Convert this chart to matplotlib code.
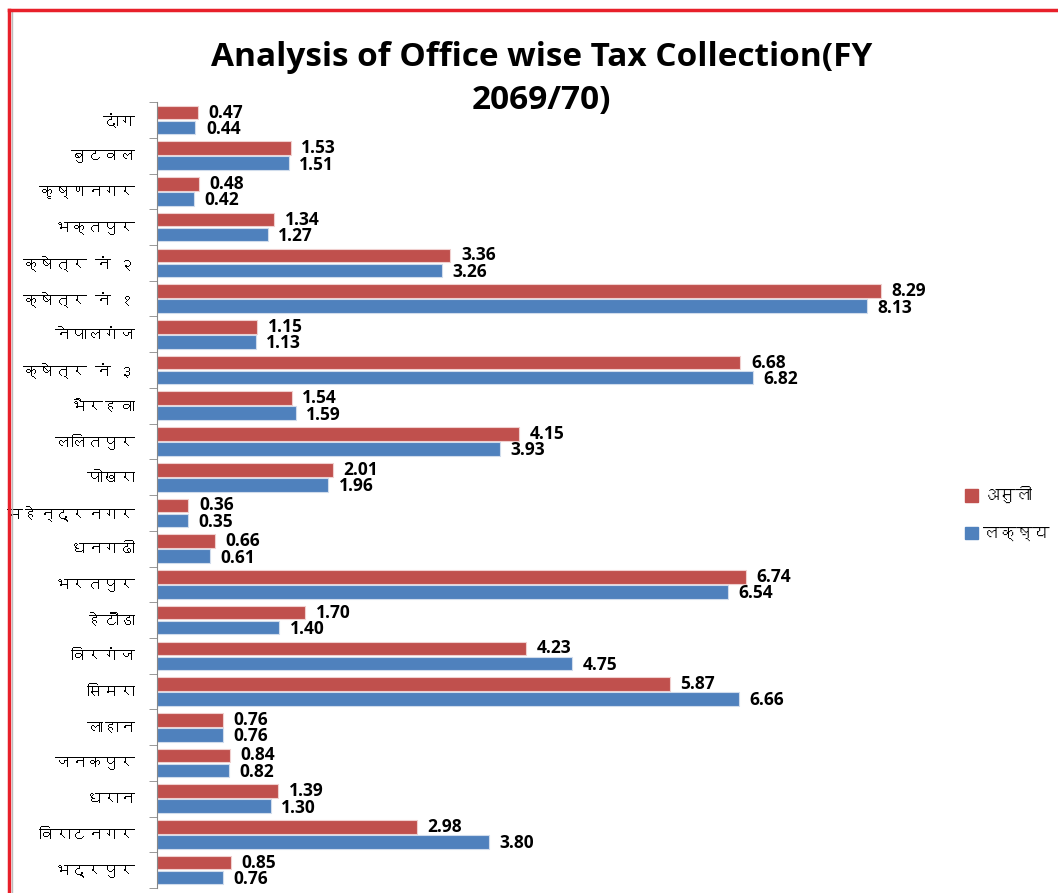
import matplotlib
matplotlib.use("Agg")
import matplotlib.pyplot as plt
from matplotlib import font_manager
from matplotlib.ft2font import FT2Font
from matplotlib.lines import Line2D
import numpy as np

offices = ["दांग", "बुटवल", "कृष्णनगर", "भक्तपुर", "क्षेत्र नं २", "क्षेत्र नं १",
           "नेपालगंज", "क्षेत्र नं ३", "भैरहवा", "ललितपुर", "पोखरा", "महेन्द्रनगर",
           "धनगढी", "भरतपुर", "हेटौंडा", "विरगंज", "सिमरा", "लाहान", "जनकपुर",
           "धरान", "विराटनगर", "भद्रपुर"]
asuli = [0.47, 1.53, 0.48, 1.34, 3.36, 8.29, 1.15, 6.68, 1.54, 4.15, 2.01, 0.36,
         0.66, 6.74, 1.70, 4.23, 5.87, 0.76, 0.84, 1.39, 2.98, 0.85]
lakshya = [0.44, 1.51, 0.42, 1.27, 3.26, 8.13, 1.13, 6.82, 1.59, 3.93, 1.96, 0.35,
           0.61, 6.54, 1.40, 4.75, 6.66, 0.76, 0.82, 1.30, 3.80, 0.76]
series_names = ["असुली", "लक्ष्य"]


def find_devanagari_font():
    # look for any installed font that has Devanagari glyphs
    for f in font_manager.fontManager.ttflist:
        try:
            ft = FT2Font(f.fname)
            if ft.get_char_index(0x0915) and ft.get_char_index(0x0928):
                return f.name
        except Exception:
            continue
    return None


deva = find_devanagari_font()
families = ([deva] if deva else []) + ["DejaVu Sans"]
plt.rcParams["font.family"] = families

RED = "#C0504D"
BLUE = "#4F81BD"
NUM_FONT = ["Open Sans", "DejaVu Sans"]

fig = plt.figure(figsize=(10.58, 8.93), dpi=100)
ax = fig.add_axes([0.1484, 0.0056, 0.743, 0.880])

n = len(offices)
y = np.arange(n)
h = 0.38
ax.barh(y - h / 2 - 0.02, asuli, height=h, color=RED, edgecolor="#f0d0cf", linewidth=0.8)
ax.barh(y + h / 2 + 0.02, lakshya, height=h, color=BLUE, edgecolor="#d0dcec", linewidth=0.8)

for i in range(n):
    ax.text(asuli[i] + 0.12, y[i] - h / 2 - 0.02, f"{asuli[i]:.2f}", va="center", ha="left",
            fontsize=12.5, fontweight="bold", family=NUM_FONT)
    ax.text(lakshya[i] + 0.12, y[i] + h / 2 + 0.06, f"{lakshya[i]:.2f}", va="center", ha="left",
            fontsize=12.5, fontweight="bold", family=NUM_FONT)

ax.set_xlim(0, 9)
ax.set_ylim(n - 0.5, -0.5)
ax.set_yticks(y)
ax.set_yticklabels(offices, fontsize=11.5)
ax.tick_params(axis="y", which="major", length=0, pad=16)
ax.set_yticks(np.arange(n + 1) - 0.5, minor=True)
ax.tick_params(axis="y", which="minor", length=6, color="#888888", direction="out")
ax.set_xticks([])
for s in ["top", "right", "bottom"]:
    ax.spines[s].set_visible(False)
ax.spines["left"].set_color("#888888")

fig.text(0.512, 0.936, "Analysis of Office wise Tax Collection(FY", ha="center", va="center",
         fontsize=24, fontweight="bold", family=NUM_FONT)
fig.text(0.512, 0.887, "2069/70)", ha="center", va="center",
         fontsize=24, fontweight="bold", family=NUM_FONT)

handles = [plt.Rectangle((0, 0), 1, 1, color=RED), plt.Rectangle((0, 0), 1, 1, color=BLUE)]
fig.legend(handles, series_names, loc="center left", bbox_to_anchor=(0.912, 0.425),
           frameon=False, fontsize=12, handlelength=0.8, handleheight=0.8,
           handletextpad=0.3, labelspacing=1.4, borderpad=0, borderaxespad=0)

# red frame lines of the original slide
fig.add_artist(Line2D([0.0085, 0.0085], [0, 0.989], color="#E8202A", lw=2.5))
fig.add_artist(Line2D([0.011, 0.011], [0, 0.987], color="#bbbbbb", lw=1))
fig.add_artist(Line2D([0.0085, 1], [0.989, 0.989], color="#E8202A", lw=2.5))

fig.savefig("out.png", dpi=100)
